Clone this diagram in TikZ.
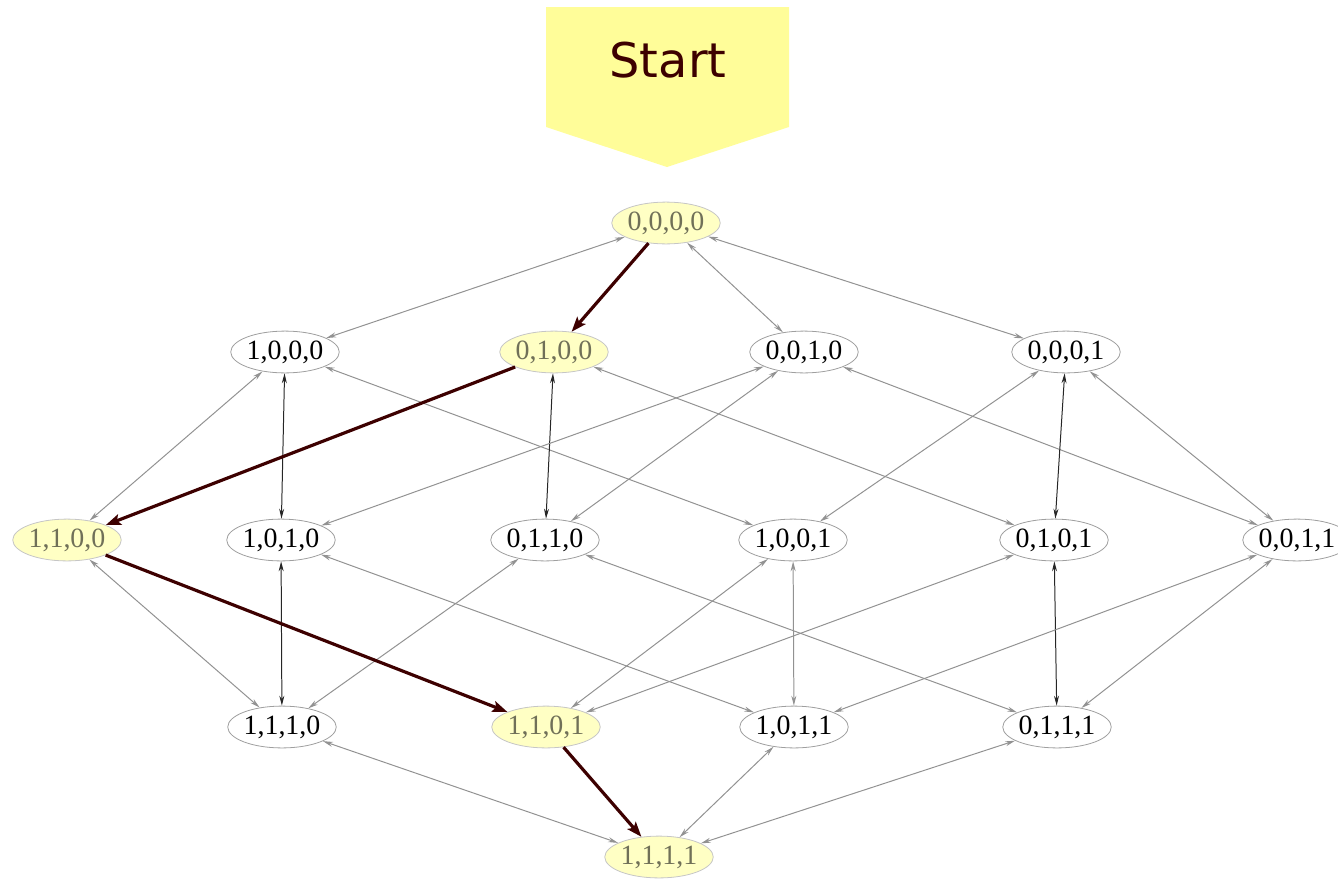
\documentclass[tikz,border=0pt]{standalone}
\usepackage{fontspec}
\setmainfont{Liberation Serif}
\newfontfamily\startfont{DejaVu Sans}
\usetikzlibrary{arrows.meta,shapes.geometric}
\definecolor{hilite}{HTML}{FFFFC4}
\definecolor{hilitetext}{HTML}{707058}
\definecolor{pathred}{HTML}{3D0000}
\definecolor{startyellow}{HTML}{FFFD99}
\definecolor{edgegray}{HTML}{929292}
\tikzset{
  state/.style={ellipse, draw=gray!75, line width=0.8pt, fill=white,
    minimum width=108pt, minimum height=42pt, inner sep=0pt,
    font=\fontsize{28}{28}\selectfont},
  visited/.style={state, fill=hilite, draw=gray!45, text=hilitetext},
  link/.style={edgegray, line width=1pt,
    {Stealth[length=10pt,width=5pt]}-{Stealth[length=10pt,width=5pt]}},
  vlink/.style={link, black!85},
  walk/.style={pathred, line width=3.2pt,
    -{Stealth[length=15pt,width=11pt,inset=3pt]}},
}
\begin{document}
\begin{tikzpicture}[x=1bp,y=-1bp]
\useasboundingbox (0,0) rectangle (1338,882);

% start marker
\fill[startyellow] (546,7) -- (789,7) -- (789,127) -- (667,167) -- (546,127) -- cycle;
\node[text=pathred, font=\startfont\fontsize{48}{48}\selectfont] (start) at (668,60) {Start};

% lattice of states
\node[visited] (s0000) at (666,223) {0,0,0,0};

\node[state]   (s1000) at (285,352) {1,0,0,0};
\node[visited] (s0100) at (554,352) {0,1,0,0};
\node[state]   (s0010) at (804,352) {0,0,1,0};
\node[state]   (s0001) at (1066,352) {0,0,0,1};

\node[visited] (s1100) at (67,540) {1,1,0,0};
\node[state]   (s1010) at (281,540) {1,0,1,0};
\node[state]   (s0110) at (545,540) {0,1,1,0};
\node[state]   (s1001) at (793,540) {1,0,0,1};
\node[state]   (s0101) at (1054,540) {0,1,0,1};
\node[state]   (s0011) at (1297,540) {0,0,1,1};

\node[state]   (s1110) at (282,727) {1,1,1,0};
\node[visited] (s1101) at (546,727) {1,1,0,1};
\node[state]   (s1011) at (794,727) {1,0,1,1};
\node[state]   (s0111) at (1057,727) {0,1,1,1};

\node[visited] (s1111) at (659,857) {1,1,1,1};

% single-bit transitions
\draw[link] (s0000) -- (s1000);
\draw[link] (s0000) -- (s0010);
\draw[link] (s0000) -- (s0001);

\draw[link]  (s1000) -- (s1100);
\draw[vlink] (s1000) -- (s1010);
\draw[link]  (s1000) -- (s1001);

\draw[vlink] (s0100) -- (s0110);
\draw[link]  (s0100) -- (s0101);

\draw[link] (s0010) -- (s1010);
\draw[link] (s0010) -- (s0110);
\draw[link] (s0010) -- (s0011);

\draw[link]  (s0001) -- (s1001);
\draw[vlink] (s0001) -- (s0101);
\draw[link]  (s0001) -- (s0011);

\draw[link] (s1100) -- (s1110);

\draw[vlink] (s1010) -- (s1110);
\draw[link]  (s1010) -- (s1011);

\draw[link] (s0110) -- (s1110);
\draw[link] (s0110) -- (s0111);

\draw[link] (s1001) -- (s1101);
\draw[link] (s1001) -- (s1011);

\draw[link]  (s0101) -- (s1101);
\draw[vlink] (s0101) -- (s0111);

\draw[link] (s0011) -- (s1011);
\draw[link] (s0011) -- (s0111);

\draw[link] (s1110) -- (s1111);
\draw[link] (s1011) -- (s1111);
\draw[link] (s0111) -- (s1111);

% the path that was taken
\draw[walk] (s0000) -- (s0100);
\draw[walk] (s0100) -- (s1100);
\draw[walk] (s1100) -- (s1101);
\draw[walk] (s1101) -- (s1111);
\end{tikzpicture}
\end{document}
